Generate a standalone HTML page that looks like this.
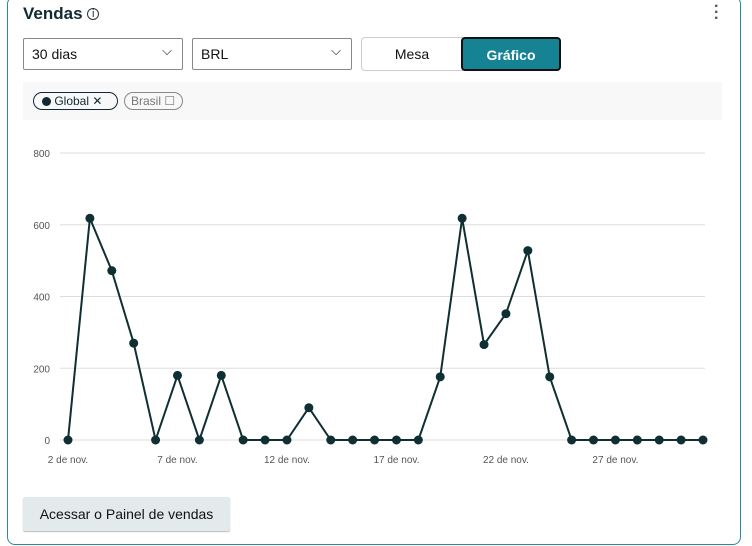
<!DOCTYPE html>
<html><head><meta charset="utf-8"><style>
body{margin:0;width:752px;height:546px;background:#fff;font-family:"Liberation Sans",sans-serif;overflow:hidden;position:relative}
.card{position:absolute;left:7px;top:-4px;width:734px;height:549px;border:1.5px solid #2a8a9a;border-radius:8px;box-sizing:border-box}
.t{position:absolute;left:23px;top:4px;font-size:17px;font-weight:bold;color:#0f2a33}
.sel{position:absolute;top:38px;height:32px;border:1px solid #888;border-radius:2px;box-sizing:border-box;font-size:14px;color:#111;padding:7px 8px}
.sel span{position:absolute;right:10px;top:4px;font-size:13px}
.btn{position:absolute;top:37px;height:34px;box-sizing:border-box;font-size:14px;text-align:center;line-height:32px}
</style></head><body>
<div class="card"></div>
<div class="t">Vendas <span style="font-size:11px;font-weight:normal;border:1.3px solid #333;border-radius:50%;display:inline-block;width:10px;height:10px;line-height:10px;text-align:center;vertical-align:2px">i</span></div>
<div style="position:absolute;left:714px;top:4px;font-size:16px;color:#555;line-height:6px;font-weight:bold">·<br>·<br>·</div>
<div class="sel" style="left:23px;width:160px">30 dias<span>⌵</span></div>
<div class="sel" style="left:192px;width:160px">BRL<span>⌵</span></div>
<div class="btn" style="left:361px;width:102px;border:1px solid #ccc;border-radius:4px 0 0 4px;color:#111">Mesa</div>
<div class="btn" style="left:461px;width:100px;background:#158394;border:2px solid #111;border-radius:4px;color:#fff;font-weight:bold">Gráfico</div>
<div style="position:absolute;left:23px;top:82px;width:699px;height:38px;background:#f8f8f8"></div>
<div style="position:absolute;left:33px;top:92px;width:85px;height:18px;box-sizing:border-box;padding:0 0 0 8px;border:1px solid #0f2a33;border-radius:10px;font-size:12px;line-height:17px;color:#0f2a33"><span style="display:inline-block;width:9px;height:9px;border-radius:50%;background:#0f2a33;vertical-align:-1px"></span> Global ✕</div>
<div style="position:absolute;left:124px;top:92px;width:59px;height:18px;box-sizing:border-box;padding:0 0 0 6px;border:1px solid #888;border-radius:10px;font-size:12px;line-height:17px;color:#777">Brasil ☐</div>
<svg id="ch" width="752" height="546" style="position:absolute;left:0;top:0"></svg>
<div style="position:absolute;left:23px;top:497px;width:207px;height:34px;background:#e3eaeb;border-radius:2px;box-shadow:0 1px 1px #bbb;font-size:14px;line-height:34px;text-align:center;color:#111">Acessar o Painel de vendas</div>
<script>
const categories=["2 de nov.","3","4","5","6","7 de nov.","8","9","10","11","12 de nov.","13","14","15","16","17 de nov.","18","19","20","21","22 de nov.","23","24","25","26","27 de nov.","28","29","30","1"];
const values=[0,618,472,270,0,180,0,180,0,0,0,90,0,0,0,0,0,176,618,266,352,528,176,0,0,0,0,0,0,0];
const yTicks=[0,200,400,600,800];
const xTickIdx=[0,5,10,15,20,25];
const NS="http://www.w3.org/2000/svg",svg=document.getElementById('ch');
const x=i=>68+i*(703-68)/(categories.length-1);
const y=v=>440-v*(440-153)/800;
function mk(t,a,txt){const e=document.createElementNS(NS,t);for(const k in a)e.setAttribute(k,a[k]);if(txt!=null)e.textContent=txt;svg.appendChild(e);return e;}
yTicks.forEach(v=>{
 const g=mk('line',{x1:60,x2:705,y1:y(v),y2:y(v),stroke:'#ddd','stroke-width':1});
 
 
 const t=mk('text',{x:50,y:y(v)+4,'text-anchor':'end','font-size':10,fill:'#555','font-family':'Liberation Sans'},v);
 
 
});
xTickIdx.forEach(i=>{
 const t=mk('text',{x:x(i),y:463,'text-anchor':'middle','font-size':10,fill:'#555','font-family':'Liberation Sans'},categories[i]);
 
 
});
const p=mk('polyline',{points:values.map((v,i)=>x(i)+','+y(v)).join(' '),fill:'none',stroke:'#0f2f33','stroke-width':2});


values.forEach((v,i)=>{
 const c=mk('circle',{cx:x(i),cy:y(v),r:4.5,fill:'#0f2f33'});
 
 
});
</script>
</body></html>
